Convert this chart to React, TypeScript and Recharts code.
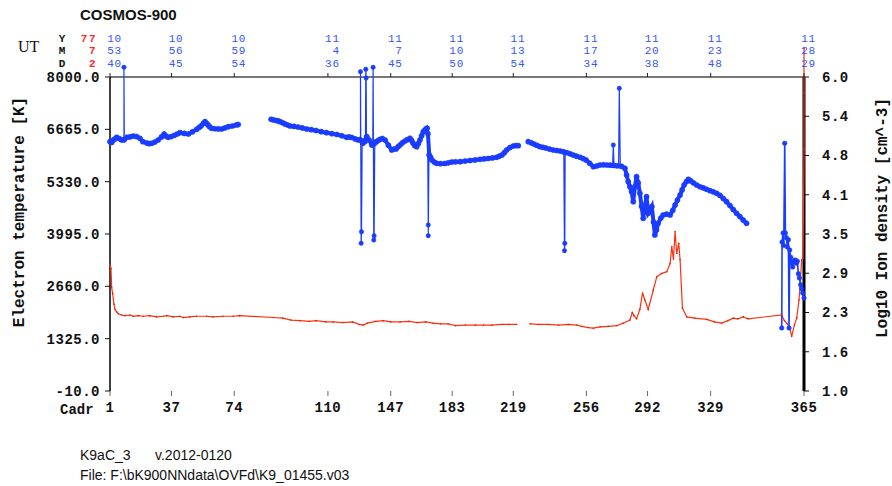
import React from "react";
import { LineChart, Line, XAxis, YAxis, ReferenceLine } from "recharts";

// time axis: seconds since 10:53:40 UT
const utTicks = [0, 185, 374, 656, 845, 1030, 1214, 1434, 1618, 1808, 2089];
const cadrLabels = ["1", "37", "74", "110", "147", "183", "219", "256", "292", "329", "365"];
const utHour = ["10", "10", "10", "11", "11", "11", "11", "11", "11", "11", "11"];
const utMin = ["53", "56", "59", "4", "7", "10", "13", "17", "20", "23", "28"];
const utSec = ["40", "45", "54", "36", "45", "50", "54", "34", "38", "48", "29"];

const teTicks = [-10, 1325, 2660, 3995, 5330, 6665, 8000];
const niTicks = [1.0, 1.625, 2.25, 2.875, 3.5, 4.125, 4.75, 5.375, 6.0];

// electron temperature [K], dense parts
const blueBand1 = [
  [0, 6350], [5, 6330], [10, 6393], [15, 6420], [20, 6462], [28, 6430], [35, 6393], [42, 6400],
  [51, 6462], [60, 6470], [70, 6495], [80, 6480], [90, 6436], [99, 6350], [111, 6316], [118, 6300],
  [126, 6309], [135, 6340], [145, 6393], [155, 6470], [163, 6546], [169, 6490], [175, 6462],
  [184, 6480], [193, 6508], [202, 6545], [211, 6579], [224, 6560], [236, 6546], [248, 6600],
  [261, 6666], [268, 6710], [274, 6750], [281, 6820], [286, 6860], [291, 6820], [295, 6776],
  [300, 6730], [306, 6691], [316, 6680], [326, 6675], [336, 6673], [346, 6700], [356, 6732],
  [368, 6750], [381, 6776], [386, 6788],
];
const blueBand2 = [
  [485, 6921], [492, 6905], [500, 6890], [506, 6880], [512, 6860], [520, 6830], [527, 6801],
  [535, 6775], [542, 6750], [554, 6740], [566, 6724], [579, 6700], [592, 6673], [606, 6655],
  [620, 6635], [636, 6605], [652, 6579], [668, 6555], [683, 6533], [698, 6500], [712, 6462],
  [720, 6470], [728, 6457], [738, 6420], [747, 6393], [752, 6400], [762, 6316], [767, 6380],
  [773, 6477], [780, 6393], [788, 6265], [795, 6300], [801, 6342], [807, 6380], [813, 6411],
  [820, 6430], [828, 6393], [838, 6260], [848, 6138], [855, 6160], [861, 6163], [867, 6220],
  [873, 6265], [880, 6320], [888, 6367], [895, 6400], [903, 6436], [908, 6380], [912, 6316],
  [917, 6250], [923, 6222], [928, 6300], [933, 6393], [938, 6500], [943, 6605], [948, 6650],
  [953, 6691], [957, 6550], [961, 6010], [965, 5950], [969, 5883], [976, 5830], [983, 5798],
  [995, 5790], [1008, 5793], [1018, 5810], [1029, 5832], [1040, 5835], [1054, 5839], [1069, 5855],
  [1084, 5870], [1099, 5885], [1114, 5901], [1126, 5910], [1138, 5921], [1151, 5935], [1164, 5952],
  [1172, 5980], [1180, 6010], [1187, 6070], [1194, 6138], [1204, 6200], [1214, 6240], [1222, 6250],
  [1229, 6247],
];
const blueBand3 = [
  [1259, 6350], [1268, 6320], [1276, 6291], [1285, 6255], [1294, 6222], [1303, 6205], [1312, 6189],
  [1323, 6160], [1334, 6138], [1345, 6125], [1355, 6112], [1365, 6090], [1375, 6069], [1385, 6040],
  [1394, 6010], [1404, 5980], [1415, 5952], [1424, 5920], [1433, 5883], [1444, 5800], [1455, 5712],
  [1465, 5730], [1475, 5755], [1485, 5760], [1495, 5755], [1505, 5750], [1515, 5745], [1525, 5735],
  [1540, 5720], [1550, 5671], [1555, 5500], [1560, 5329], [1565, 5200], [1570, 5074], [1575, 4819],
  [1580, 5200], [1585, 5457], [1590, 5300], [1595, 5033], [1600, 4700], [1605, 4395], [1610, 4700],
  [1615, 4946], [1620, 4523], [1626, 4600], [1631, 4691], [1636, 4300], [1640, 3969], [1645, 4100],
  [1650, 4268], [1658, 4400], [1665, 4480], [1675, 4500], [1686, 4480], [1694, 4600], [1701, 4735],
  [1708, 4860], [1716, 4990], [1722, 5120], [1728, 5245], [1735, 5330], [1741, 5390], [1748, 5350],
  [1756, 5300], [1766, 5245], [1776, 5200], [1786, 5170], [1796, 5135], [1806, 5100], [1816, 5070],
  [1826, 5033], [1836, 4980], [1846, 4900], [1856, 4819], [1866, 4720], [1876, 4620], [1886, 4523],
  [1896, 4440], [1906, 4350], [1916, 4268],
];
const blueEnd = [
  [2022, 1597], [2023, 3791], [2026, 4020], [2028, 3700], [2031, 6309], [2033, 4020], [2036, 3900],
  [2039, 3663], [2042, 3850], [2044, 1597], [2046, 3587], [2049, 3400], [2052, 3250], [2055, 3153],
  [2058, 3300], [2062, 3332], [2066, 3250], [2069, 3300], [2072, 2980], [2075, 2873], [2079, 2700],
  [2082, 2600], [2085, 2490], [2089, 2362],
];
// single-sample spikes
const blueSpikes = [
  [[42, 6393], [42, 8247], [43, 6393]],
  [[754, 6400], [754, 8135], [756, 3758], [757, 4054], [759, 6316]],
  [[769, 6350], [770, 8196], [771, 7974], [772, 6477]],
  [[791, 6265], [792, 8247], [794, 3842], [795, 3950], [797, 6342]],
  [[956, 6691], [958, 4224], [958, 3952], [960, 6010]],
  [[1366, 6090], [1368, 3569], [1369, 3758], [1370, 6075]],
  [[1513, 5750], [1515, 6265], [1517, 5745]],
  [[1531, 5730], [1533, 7712], [1536, 5725]],
];

// log10 ion density [cm^-3]
const redA = [
  [0, 3.02], [3, 2.95], [5, 2.65], [8, 2.55], [12, 2.38], [15, 2.3], [20, 2.26], [25, 2.23],
  [35, 2.21], [45, 2.2], [60, 2.21], [70, 2.19], [85, 2.2], [100, 2.19], [120, 2.2], [140, 2.18],
  [160, 2.19], [171, 2.2], [190, 2.18], [210, 2.19], [221, 2.17], [240, 2.18], [260, 2.19],
  [291, 2.19], [310, 2.18], [340, 2.19], [371, 2.19], [390, 2.2], [492, 2.17], [520, 2.16],
  [545, 2.13], [572, 2.12], [600, 2.11], [620, 2.12], [650, 2.1], [672, 2.1], [700, 2.09],
  [730, 2.1], [750, 2.06], [762, 2.05], [775, 2.08], [800, 2.11], [823, 2.12], [845, 2.1],
  [873, 2.1], [900, 2.11], [925, 2.09], [950, 2.1], [973, 2.08], [995, 2.07], [1018, 2.07],
  [1040, 2.04], [1070, 2.05], [1100, 2.05], [1124, 2.05], [1150, 2.05], [1180, 2.06], [1200, 2.06],
  [1224, 2.06],
];
const redB = [
  [1264, 2.07], [1290, 2.06], [1320, 2.06], [1350, 2.05], [1380, 2.06], [1405, 2.05], [1420, 2.03],
  [1440, 2.01], [1455, 2.0], [1475, 2.02], [1500, 2.03], [1525, 2.04], [1545, 2.08], [1565, 2.13],
  [1572, 2.25], [1577, 2.2], [1585, 2.15], [1595, 2.3], [1603, 2.56], [1610, 2.45], [1620, 2.3],
  [1635, 2.6], [1646, 2.82], [1660, 2.87], [1676, 2.9], [1686, 3.03], [1691, 3.3], [1696, 3.1],
  [1701, 3.54], [1706, 3.19], [1712, 3.35], [1716, 3.09], [1723, 2.32], [1736, 2.18], [1760, 2.16],
  [1796, 2.14], [1820, 2.1], [1841, 2.08], [1860, 2.12], [1876, 2.16], [1890, 2.15], [1906, 2.18],
  [1921, 2.15], [2022, 2.21], [2030, 2.12], [2037, 2.08], [2046, 2.0], [2052, 1.87], [2060, 2.05],
  [2067, 2.16], [2074, 2.45], [2077, 2.66], [2082, 3.09], [2086, 3.1], [2089, 4.73], [2089, 5.75],
  [2089, 4.85], [2089, 6.46],
];

const BLUE = "#1a3cff";
const RED = "#ff3010";
const MONO = "'Liberation Mono', 'DejaVu Sans Mono', monospace";
const SANS = "'Liberation Sans', Arial, sans-serif";

const pts = (a: number[][]) => a.map(([t, v]) => ({ t, v }));

const tickFont = { fontFamily: MONO, fontSize: 14, fontWeight: "bold", fill: "#111", letterSpacing: 0.5 };
const ROW = 12.5;
const ROW0 = 41.5;

// bottom tick draws the Cadr number and the UT block above the plot at the same x
function TimeTick(props: any) {
  const { x, y, payload } = props;
  const i = utTicks.indexOf(payload.value);
  const rows = [utHour[i], utMin[i], utSec[i]];
  return (
    <g>
      <text x={x} y={y} dy="0.71em" textAnchor="middle" {...tickFont}>
        {cadrLabels[i]}
      </text>
      <line x1={x} x2={x} y1={73} y2={77} stroke="#222" />
      {rows.map((s, k) => (
        <text key={k} x={x + 12} y={ROW0 + k * ROW} textAnchor="end" fontFamily={MONO} fontSize={11} fill="#3355ff"
          letterSpacing={0.8}>
          {s}
        </text>
      ))}
    </g>
  );
}

export default function App() {
  return (
    <div style={{ position: "absolute", left: 0, top: 0, width: 892, height: 486, background: "#fff" }}>
      <LineChart width={892} height={486} margin={{ top: 45, right: 28, bottom: 65, left: 40 }}>
        <XAxis
          xAxisId="bottom"
          type="number"
          dataKey="t"
          domain={[0, 2089]}
          ticks={utTicks}
          interval={0}
          axisLine={false}
          tickLine={{ stroke: "#666" }}
          tickSize={5}
          tickMargin={6}
          height={30}
          tick={(p: any) => <TimeTick {...p} />}
        />
        <YAxis
          yAxisId="te"
          type="number"
          domain={[-10, 8816]}
          ticks={teTicks}
          interval={0}
          tickFormatter={(v: number) => v.toFixed(1)}
          axisLine={false}
          tickLine={{ stroke: "#111" }}
          tickSize={5}
          tickMargin={5}
          width={70}
          tick={tickFont}
        />
        <YAxis
          yAxisId="ni"
          orientation="right"
          type="number"
          domain={[1, 6.5096]}
          ticks={niTicks}
          interval={0}
          tickFormatter={(v: number) => v.toFixed(1)}
          axisLine={false}
          tickLine={{ stroke: "#111" }}
          tickSize={5}
          tickMargin={13}
          width={60}
          tick={tickFont}
        />
        <ReferenceLine
          xAxisId="bottom"
          yAxisId="te"
          segment={[{ x: 0, y: 8000 }, { x: 2089, y: 8000 }]}
          stroke="#777"
          strokeWidth={2}
        />
        <ReferenceLine
          xAxisId="bottom"
          yAxisId="te"
          segment={[{ x: 0, y: -10 }, { x: 0, y: 8000 }]}
          stroke="#000"
          strokeWidth={1.5}
        />
        <ReferenceLine
          xAxisId="bottom"
          yAxisId="ni"
          segment={[{ x: 2089, y: 1 }, { x: 2089, y: 6 }]}
          stroke="#000"
          strokeWidth={3}
        />
        <Line xAxisId="bottom" yAxisId="ni" data={pts(redA)} dataKey="v" stroke={RED} strokeWidth={1.2}
          dot={{ r: 0.8, fill: "#e02000", stroke: "none" }} isAnimationActive={false} />
        <Line xAxisId="bottom" yAxisId="ni" data={pts(redB)} dataKey="v" stroke={RED} strokeWidth={1.2}
          dot={{ r: 0.8, fill: "#e02000", stroke: "none" }} isAnimationActive={false} />
        {blueSpikes.map((s, i) => (
          <Line key={"s" + i} xAxisId="bottom" yAxisId="te" data={pts(s)} dataKey="v" stroke={BLUE}
            strokeWidth={1.2} dot={{ r: 2.2, fill: BLUE, stroke: BLUE, strokeWidth: 0.5 }} isAnimationActive={false} />
        ))}
        {[blueBand1, blueBand2, blueBand3].map((b, i) => (
          <Line key={"b" + i} xAxisId="bottom" yAxisId="te" data={pts(b)} dataKey="v" stroke={BLUE}
            strokeWidth={4} dot={{ r: 2.6, fill: BLUE, stroke: BLUE, strokeWidth: 0.5 }} isAnimationActive={false} />
        ))}
        <Line xAxisId="bottom" yAxisId="te" data={pts(blueEnd)} dataKey="v" stroke={BLUE} strokeWidth={1.6}
          dot={{ r: 2.3, fill: BLUE, stroke: BLUE, strokeWidth: 0.5 }} isAnimationActive={false} />
      </LineChart>
      <svg width={892} height={486} style={{ position: "absolute", left: 0, top: 0, pointerEvents: "none" }}>
        <text x={80} y={20} fontFamily={SANS} fontWeight="bold" fontSize={15} fill="#111">COSMOS-900</text>
        <text x={18} y={52} fontFamily="'Liberation Serif', serif" fontSize={16} fill="#111">UT</text>
        {["Y", "M", "D"].map((s, k) => (
          <text key={s} x={62} y={ROW0 + k * ROW} textAnchor="middle" fontFamily={MONO} fontWeight="bold" fontSize={11} fill="#111">{s}</text>
        ))}
        {["77", "7", "2"].map((s, k) => (
          <text key={k} x={97} y={ROW0 + k * ROW} textAnchor="end" fontFamily={MONO} fontWeight="bold" fontSize={11}
            letterSpacing={1.5} fill="#ff2a2a">{s}</text>
        ))}
        <text transform="translate(24,212) rotate(-90)" textAnchor="middle" fontFamily={MONO} fontWeight="bold" fontSize={16} fill="#111">
          Electron temperature [K]
        </text>
        <text transform="translate(887,218) rotate(-90)" textAnchor="middle" fontFamily={MONO} fontWeight="bold" fontSize={16} fill="#111">
          Log10 Ion density [cm^-3]
        </text>
        <text x={60} y={414} fontFamily={MONO} fontWeight="bold" fontSize={14} fill="#111">Cadr</text>
        <text x={80} y={460} fontFamily={SANS} fontSize={14} fill="#111">K9aC_3</text>
        <text x={155} y={460} fontFamily={SANS} fontSize={14} fill="#111">v.2012-0120</text>
        <text x={80} y={480} fontFamily={SANS} fontSize={14} fill="#111">{"File: F:\\bK900NNdata\\OVFd\\K9_01455.v03"}</text>
      </svg>
    </div>
  );
}
